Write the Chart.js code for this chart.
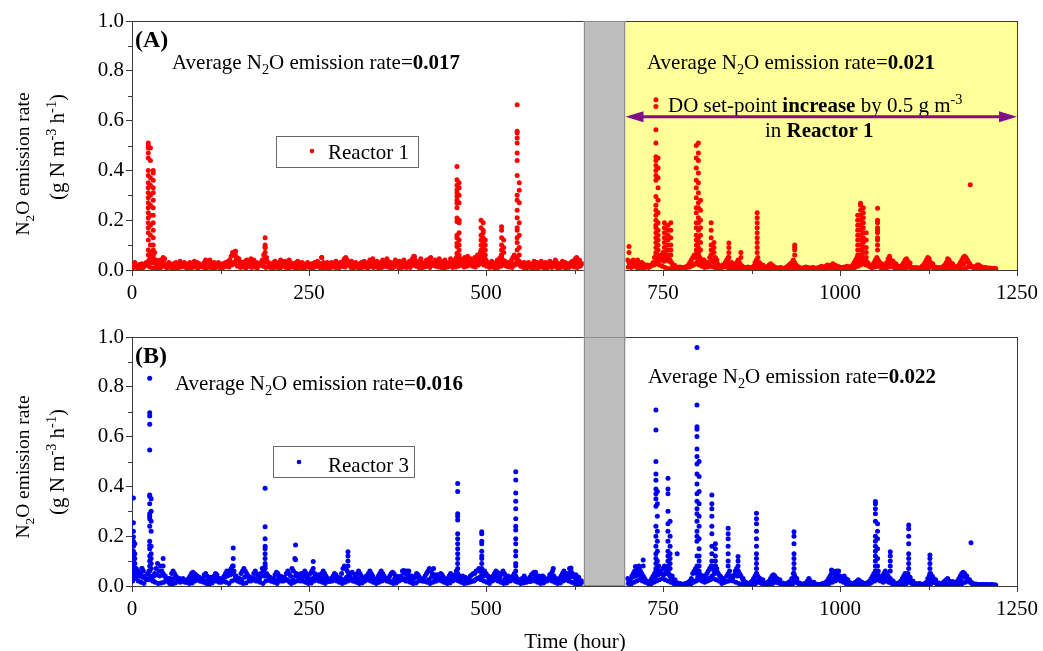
<!DOCTYPE html>
<html>
<head>
<meta charset="utf-8">
<script src="https://cdn.jsdelivr.net/npm/chart.js@4.4.1/dist/chart.umd.min.js"></script>
<style>
  html, body { margin: 0; padding: 0; background: #fff; }
  #wrap { position: relative; width: 1043px; height: 651px; overflow: hidden; }
  #cA { position: absolute; left: 0; top: 0; }
  #cB { position: absolute; left: 0; top: 310px; }
</style>
</head>
<body>
<div id="wrap">
  <canvas id="cA" width="1043" height="340"></canvas>
  <canvas id="cB" width="1043" height="341"></canvas>
</div>
<script>
// ---------------- axis ticks ----------------
const xTicks = [0, 250, 500, 750, 1000, 1250];
const xMinorTicks = [125, 375, 625, 875, 1125];
const yTicks = [0, 0.2, 0.4, 0.6, 0.8, 1.0];
const yMinorTicks = [0.1, 0.3, 0.5, 0.7, 0.9];

// shut-down period between the two runs (hours) and the DO set-point change
const shutdownHours = [638, 697];
const setPointChangeFrom = 697;

// average emission rates (g N m-3 h-1): before / after the shut-down
const avgRatesR1 = ['0.017', '0.021'];
const avgRatesR3 = ['0.016', '0.022'];

// ---------------- Reactor 1 ----------------
// cycle maxima, every 2 h: run 1 starts at 0 h, run 2 at 700 h
const r1Run1 = [
  .02,.01,.03,.015,.008,.02,.012,.025,.01,.02,
  .03,.02,.04,.06,.03,.05,.07,.04,.02,.03,
  .04,.03,.05,.045,.02,.01,.03,.02,.015,.025,
  .02,.03,.01,.025,.035,.015,.02,.03,.01,.02,
  .025,.03,.012,.02,.035,.02,.03,.01,.02,.015,
  .02,.03,.04,.035,.02,.04,.01,.025,.03,.02,
  .015,.03,.02,.01,.025,.02,.03,.015,.035,.04,
  .055,.07,.06,.075,.05,.04,.03,.02,.03,.025,
  .035,.04,.03,.02,.045,.03,.04,.02,.03,.025,
  .02,.03,.04,.06,.09,.05,.03,.02,.025,.015,
  .03,.035,.02,.01,.03,.04,.025,.02,.035,.03,
  .02,.04,.03,.015,.025,.02,.03,.035,.01,.02,
  .03,.025,.015,.02,.03,.02,.01,.025,.02,.03,
  .02,.035,.015,.025,.05,.03,.02,.01,.03,.02,
  .025,.03,.015,.02,.035,.02,.01,.03,.02,.035,
  .045,.05,.04,.03,.02,.035,.015,.025,.03,.02,
  .01,.025,.03,.02,.035,.015,.02,.03,.04,.025,
  .045,.03,.02,.035,.01,.025,.03,.04,.02,.03,
  .045,.035,.02,.03,.015,.025,.04,.03,.02,.035,
  .03,.02,.04,.025,.01,.03,.035,.02,.045,.055,
  .04,.03,.02,.035,.045,.03,.015,.025,.04,.03,
  .045,.05,.03,.02,.04,.035,.025,.045,.03,.02,
  .035,.04,.025,.015,.03,.045,.02,.03,.04,.05,
  .04,.03,.045,.02,.035,.05,.04,.055,.03,.045,
  .03,.02,.05,.04,.06,.05,.07,.04,.03,.05,
  .04,.03,.02,.025,.035,.015,.02,.03,.04,.035,
  .05,.06,.04,.03,.02,.015,.025,.03,.04,.05,
  .06,.05,.04,.03,.02,.025,.015,.03,.02,.025,
  .03,.02,.01,.025,.035,.02,.03,.015,.02,.035,
  .025,.02,.03,.01,.02,.035,.025,.015,.03,.04,
  .03,.02,.025,.015,.035,.02,.03,.01,.025,.02,
  .03,.035,.02,.045,.05,.03,.04,.02,.025
];
const r1Run2 = [
  .04,.03,.02,.035,.04,.03,.035,.04,.03,.02,
  .03,.025,.02,.015,.02,.01,.015,.02,.03,.05,
  .06,.05,.04,.05,.06,.07,.05,.04,.06,.05,
  .04,.03,.02,.015,.01,.008,.01,.012,.01,.008,
  .01,.012,.015,.02,.03,.04,.05,.06,.05,.07,
  .06,.05,.04,.03,.04,.03,.02,.03,.05,.06,
  .04,.03,.05,.04,.02,.015,.01,.02,.015,.03,
  .04,.05,.03,.02,.015,.01,.02,.03,.04,.03,
  .02,.015,.01,.008,.01,.012,.01,.008,.01,.015,
  .03,.04,.05,.03,.02,.01,.008,.01,.012,.015,
  .02,.025,.02,.015,.01,.008,.006,.008,.01,.008,
  .006,.008,.01,.015,.02,.025,.03,.04,.03,.02,
  .015,.01,.008,.006,.008,.01,.012,.01,.008,.006,
  .008,.01,.008,.006,.008,.01,.012,.015,.012,.01,
  .015,.02,.018,.015,.02,.025,.02,.018,.015,.012,
  .01,.008,.01,.012,.01,.015,.012,.01,.015,.02,
  .03,.04,.05,.06,.05,.04,.05,.03,.04,.03,
  .02,.015,.01,.02,.03,.04,.05,.04,.03,.02,
  .015,.01,.02,.03,.045,.055,.04,.03,.02,.01,
  .008,.01,.012,.015,.02,.03,.04,.045,.035,.02,
  .01,.008,.006,.008,.01,.008,.006,.01,.015,.02,
  .03,.04,.05,.045,.03,.02,.01,.008,.006,.008,
  .01,.008,.01,.015,.02,.03,.045,.04,.03,.02,
  .01,.008,.01,.015,.02,.03,.04,.05,.055,.05,
  .04,.03,.02,.015,.01,.012,.015,.02,.02,.015,
  .012,.01,.008,.01,.008,.006,.008,.006,.005,.006,
  .005
];
// cycle minima, every 4 h: run 1 from 1 h, run 2 from 701 h
const r1LowRun1 = [
  .008,.012,.006,.01,.015,.02,.012,.008,.01,.006,
  .01,.015,.008,.012,.006,.01,.008,.012,.015,.01,
  .006,.01,.012,.008,.015,.01,.006,.012,.01,.008,
  .012,.008,.01,.015,.012,.02,.025,.015,.01,.012,
  .008,.015,.01,.012,.008,.02,.015,.01,.012,.008,
  .01,.012,.006,.015,.01,.008,.012,.01,.006,.012,
  .008,.01,.012,.006,.01,.015,.01,.008,.012,.006,
  .01,.012,.008,.01,.015,.012,.02,.01,.008,.012,
  .006,.01,.012,.008,.015,.01,.012,.006,.01,.015,
  .012,.008,.01,.015,.006,.01,.012,.015,.01,.02,
  .015,.01,.008,.012,.015,.01,.02,.015,.012,.01,
  .008,.012,.015,.01,.012,.015,.02,.012,.015,.02,
  .015,.012,.02,.025,.02,.015,.01,.012,.008,.01,
  .015,.02,.015,.012,.01,.02,.025,.015,.01,.008,
  .012,.006,.01,.008,.012,.01,.006,.012,.01,.015,
  .008,.01,.012,.006,.01,.015,.012,.01,.015
];
const r1LowRun2 = [
  .012,.01,.015,.01,.008,.006,.01,.015,.02,.02,
  .025,.02,.015,.01,.006,.005,.004,.005,.006,.01,
  .008,.012,.015,.02,.025,.02,.015,.01,.012,.015,
  .012,.008,.006,.01,.015,.01,.006,.005,.004,.005,
  .006,.005,.004,.006,.008,.01,.006,.005,.004,.005,
  .006,.005,.004,.005,.004,.005,.006,.008,.01,.006,
  .005,.004,.003,.004,.005,.004,.003,.004,.005,.006,
  .008,.01,.008,.006,.005,.004,.005,.006,.005,.004,
  .01,.015,.02,.025,.02,.015,.01,.012,.015,.01,
  .006,.008,.012,.015,.008,.005,.004,.005,.008,.012,
  .008,.005,.004,.003,.004,.005,.008,.012,.01,.006,
  .004,.003,.004,.006,.01,.012,.008,.005,.004,.006,
  .012,.015,.01,.006,.004,.003,.004,.003,.002,.003
];
// mid-cycle readings, every 4 h: run 1 from 3 h, run 2 from 703 h
const r1MidRun1 = [
  .02,.018,.022,.02,.025,.03,.035,.03,.02,.025,
  .03,.025,.02,.018,.022,.02,.018,.022,.02,.018,
  .02,.022,.018,.025,.02,.02,.025,.028,.02,.022,
  .018,.02,.022,.02,.025,.03,.04,.045,.03,.022,
  .025,.022,.028,.025,.022,.02,.03,.035,.025,.018,
  .022,.02,.025,.028,.022,.02,.025,.02,.022,.018,
  .02,.018,.02,.022,.02,.022,.025,.028,.02,.018,
  .02,.018,.022,.02,.02,.025,.03,.028,.022,.02,
  .018,.022,.02,.025,.022,.02,.025,.028,.022,.02,
  .025,.022,.02,.025,.02,.022,.025,.02,.028,.03,
  .028,.025,.022,.028,.025,.02,.03,.028,.032,.025,
  .022,.025,.02,.028,.03,.025,.028,.03,.032,.035,
  .03,.035,.04,.035,.03,.025,.022,.02,.025,.022,
  .03,.035,.03,.025,.022,.03,.035,.028,.022,.02,
  .02,.018,.022,.02,.02,.022,.018,.02,.022,.025,
  .022,.02,.018,.02,.022,.025,.03,.028,.025
];
const r1MidRun2 = [
  .025,.025,.022,.025,.02,.018,.015,.015,.02,.03,
  .035,.04,.035,.04,.035,.025,.018,.01,.008,.008,
  .01,.012,.018,.025,.035,.04,.04,.03,.025,.035,
  .03,.025,.012,.012,.02,.025,.03,.02,.015,.02,
  .012,.008,.008,.008,.008,.018,.025,.02,.008,.01,
  .015,.012,.008,.006,.006,.008,.012,.018,.02,.015,
  .01,.006,.006,.008,.008,.006,.006,.008,.01,.01,
  .012,.015,.015,.015,.012,.01,.008,.01,.01,.012,
  .025,.035,.04,.035,.03,.02,.012,.02,.03,.025,
  .012,.018,.03,.035,.025,.015,.008,.01,.018,.028,
  .01,.006,.006,.006,.01,.02,.03,.025,.012,.006,
  .008,.01,.018,.028,.025,.012,.008,.012,.025,.035,
  .025,.012,.01,.012,.012,.008,.006,.005,.005,.004
];
// emission peaks: [hour, readings...]
const r1Peaks = [
  [23, .51,.50,.49,.47,.45,.40,.38,.35,.33,.31,.29,.27,.25,.23,.21,.19,.17,.15,.12,.08,.06],
  [26, .49,.44,.37,.34,.30,.26,.22,.18,.14,.10,.07,.05],
  [30, .40,.39,.36,.33,.31,.28,.25,.22,.19,.16,.13,.10,.08,.06,.04],
  [143, .07,.06], [146, .075,.06],
  [188, .13,.10,.09,.07,.05],
  [268, .05], [399, .054],
  [459, .416,.362,.34,.322,.31,.295,.28,.268,.25,.209,.195,.14,.13,.107,.094,.067,.05],
  [462, .35,.33,.30,.27,.20,.19,.15,.12,.10,.08,.06],
  [493, .20,.17,.14,.12,.10,.08,.06,.04],
  [496, .19,.16,.15,.13,.11,.09,.07,.05],
  [499, .12,.10,.08,.06],
  [522, .174,.16,.13,.10,.08,.06,.05], [525, .12,.09,.07],
  [544, .664,.557,.55,.53,.51,.47,.44,.38,.30,.28,.24,.21,.17,.16,.13,.11,.08,.05],
  [547, .35,.32,.27,.19,.14,.09,.06],
  [702, .094,.07],
  [740, .684,.657,.563,.51,.455,.44,.42,.40,.38,.36,.295,.26,.24,.22,.20,.18,.17,.15,.13,.11,.09,.07,.05],
  [743, .45,.41,.37,.33,.28,.23,.19,.16,.14,.12,.10,.08,.06],
  [752, .19,.17,.15,.13,.11,.09,.07,.05],
  [757, .18,.16,.14,.12,.10,.08,.06],
  [761, .19,.16,.13,.10,.08,.06],
  [797, .50,.45,.41,.36,.33,.29,.25,.23,.19,.17,.14,.12,.10,.08,.06],
  [800, .51,.47,.44,.39,.35,.31,.27,.25,.21,.19,.16,.13,.11,.09,.07,.05],
  [803, .28,.24,.20,.17,.14,.11,.08],
  [818, .19,.16,.13,.10,.08,.06], [822, .11,.09,.07],
  [843, .108,.09,.07,.05], [860, .07,.05],
  [883, .23,.21,.19,.17,.15,.13,.11,.09,.07],
  [936, .10,.09,.08,.06],
  [1025, .22,.20,.18,.16,.14,.12,.10,.08,.06],
  [1029, .268,.26,.24,.22,.20,.18,.16,.14,.12,.10,.08,.06],
  [1033, .25,.23,.21,.19,.17,.15,.13,.11,.09,.07,.05],
  [1037, .15,.12,.09,.07,.05],
  [1053, .248,.20,.19,.17,.16,.15,.13,.12,.10,.08],
  [1184, .342]
];

// ---------------- Reactor 3 ----------------
const r3Run1 = [
  .06,.08,.05,.07,.06,.04,.05,.07,.06,.04,
  .03,.05,.06,.04,.03,.02,.05,.07,.09,.06,
  .08,.06,.05,.04,.03,.02,.025,.03,.05,.06,
  .05,.04,.03,.02,.015,.02,.03,.02,.02,.025,
  .03,.04,.05,.055,.05,.045,.04,.03,.02,.02,
  .03,.045,.05,.04,.03,.02,.02,.025,.04,.05,
  .045,.03,.02,.015,.02,.04,.05,.06,.05,.06,
  .07,.08,.06,.04,.03,.02,.03,.05,.06,.07,
  .06,.05,.04,.03,.02,.03,.05,.06,.05,.04,
  .03,.05,.07,.06,.08,.05,.04,.03,.02,.02,
  .03,.045,.055,.05,.04,.03,.02,.02,.03,.05,
  .06,.05,.04,.07,.06,.11,.05,.04,.03,.02,
  .03,.05,.06,.05,.04,.03,.05,.06,.07,.05,
  .04,.03,.02,.03,.05,.06,.05,.04,.03,.02,
  .02,.03,.04,.05,.045,.035,.025,.03,.05,.07,
  .08,.07,.06,.05,.04,.03,.02,.025,.035,.05,
  .06,.05,.04,.03,.02,.03,.04,.05,.06,.05,
  .04,.03,.02,.025,.04,.05,.06,.05,.04,.03,
  .02,.03,.04,.05,.055,.05,.04,.03,.02,.03,
  .04,.06,.055,.05,.06,.045,.04,.03,.02,.03,
  .04,.05,.045,.035,.025,.02,.03,.04,.05,.06,
  .07,.06,.05,.04,.03,.02,.03,.04,.05,.045,
  .035,.025,.02,.03,.04,.05,.04,.03,.045,.06,
  .05,.04,.03,.02,.025,.03,.02,.025,.03,.04,
  .045,.05,.05,.06,.06,.07,.06,.05,.04,.06,
  .05,.04,.03,.02,.03,.04,.05,.06,.055,.05,
  .04,.05,.06,.05,.04,.03,.025,.02,.03,.04,
  .05,.04,.03,.02,.025,.02,.03,.04,.03,.02,
  .025,.035,.045,.05,.055,.04,.03,.02,.025,.03,
  .04,.035,.025,.02,.03,.045,.05,.06,.04,.03,
  .02,.025,.03,.04,.05,.06,.05,.04,.05,.07,
  .06,.05,.04,.03,.02,.015,.01,.02,.015
];
const r3Run2 = [
  .03,.02,.015,.04,.05,.06,.04,.05,.07,.06,
  .05,.04,.03,.02,.015,.01,.02,.03,.04,.05,
  .06,.07,.08,.06,.05,.07,.08,.06,.07,.05,
  .04,.03,.02,.01,.008,.006,.008,.01,.008,.006,
  .008,.01,.012,.015,.02,.03,.05,.06,.07,.05,
  .06,.04,.03,.02,.03,.04,.05,.06,.07,.08,
  .07,.06,.08,.07,.05,.04,.03,.02,.015,.02,
  .04,.05,.06,.04,.03,.04,.06,.07,.06,.05,
  .04,.03,.02,.015,.01,.008,.01,.015,.02,.03,
  .04,.05,.04,.03,.02,.015,.01,.008,.01,.015,
  .02,.03,.04,.045,.04,.03,.02,.015,.01,.008,
  .006,.008,.01,.012,.015,.02,.03,.05,.04,.03,
  .015,.01,.008,.006,.008,.01,.012,.02,.03,.02,
  .01,.008,.006,.008,.006,.005,.006,.008,.01,.012,
  .015,.02,.03,.04,.05,.06,.05,.04,.05,.06,
  .04,.03,.035,.04,.03,.02,.015,.01,.008,.01,
  .012,.015,.02,.025,.02,.015,.01,.008,.01,.012,
  .015,.02,.03,.04,.05,.06,.05,.06,.04,.03,
  .04,.05,.06,.05,.04,.03,.02,.015,.01,.008,
  .008,.01,.015,.02,.03,.04,.05,.04,.05,.03,
  .02,.015,.01,.008,.006,.008,.01,.008,.006,.008,
  .01,.015,.03,.04,.05,.04,.03,.02,.01,.008,
  .006,.008,.01,.015,.02,.025,.03,.02,.015,.01,
  .008,.01,.015,.02,.03,.04,.05,.055,.05,.04,
  .03,.02,.015,.01,.008,.006,.008,.006,.005,.006,
  .005,.006,.005,.006,.005,.004,.005,.006,.005,.004,
  .004
];
const r3LowRun1 = [
  .02,.03,.02,.015,.01,.025,.03,.02,.015,.01,
  .012,.015,.02,.01,.008,.012,.02,.025,.02,.015,
  .01,.012,.02,.025,.02,.015,.01,.008,.012,.02,
  .025,.03,.02,.015,.01,.02,.025,.02,.015,.01,
  .012,.02,.025,.03,.02,.015,.01,.02,.025,.02,
  .015,.01,.02,.03,.025,.02,.01,.015,.02,.025,
  .02,.015,.01,.012,.02,.025,.02,.015,.01,.02,
  .03,.025,.02,.015,.01,.015,.02,.025,.02,.015,
  .01,.012,.02,.025,.02,.015,.01,.015,.02,.025,
  .02,.015,.01,.012,.02,.025,.03,.02,.015,.01,
  .012,.02,.025,.02,.015,.01,.015,.02,.025,.02,
  .015,.01,.012,.02,.025,.02,.015,.01,.012,.015,
  .02,.025,.03,.025,.02,.015,.01,.02,.025,.02,
  .015,.01,.012,.02,.025,.02,.015,.01,.012,.015,
  .02,.025,.02,.015,.01,.012,.02,.025,.02,.015,
  .01,.012,.02,.025,.02,.015,.01,.008,.006
];
const r3LowRun2 = [
  .01,.008,.015,.02,.025,.02,.015,.01,.008,.015,
  .02,.025,.03,.025,.02,.015,.01,.005,.004,.003,
  .004,.005,.008,.015,.02,.025,.02,.015,.02,.025,
  .03,.025,.02,.01,.015,.02,.025,.02,.015,.01,
  .008,.005,.004,.005,.006,.01,.015,.01,.006,.004,
  .005,.01,.015,.012,.008,.005,.004,.005,.008,.015,
  .01,.005,.004,.003,.004,.006,.005,.004,.003,.004,
  .005,.01,.015,.02,.025,.02,.015,.008,.005,.004,
  .005,.006,.008,.006,.005,.008,.015,.02,.025,.02,
  .015,.02,.015,.01,.006,.004,.003,.004,.008,.015,
  .01,.005,.004,.003,.004,.003,.005,.01,.015,.01,
  .006,.004,.003,.005,.008,.006,.004,.005,.01,.015,
  .02,.015,.008,.004,.003,.002,.003,.002,.003,.002
];
const r3MidRun1 = [
  .04,.045,.04,.035,.03,.025,.035,.04,.045,.04,
  .045,.04,.03,.02,.03,.035,.03,.02,.015,.018,
  .025,.035,.04,.035,.025,.018,.025,.035,.03,.02,
  .015,.025,.035,.04,.045,.05,.04,.025,.02,.035,
  .04,.035,.025,.02,.035,.04,.04,.045,.035,.025,
  .018,.03,.038,.035,.025,.015,.025,.04,.045,.05,
  .04,.03,.025,.03,.04,.045,.04,.03,.02,.018,
  .02,.03,.035,.03,.025,.035,.05,.055,.045,.03,
  .02,.03,.04,.04,.03,.02,.018,.03,.04,.03,
  .025,.018,.03,.038,.035,.025,.02,.035,.04,.035,
  .035,.03,.02,.018,.025,.035,.045,.045,.035,.025,
  .018,.025,.03,.035,.03,.03,.04,.035,.025,.018,
  .02,.03,.035,.04,.045,.04,.035,.04,.035,.025,
  .02,.03,.04,.035,.025,.018,.02,.03,.025,.018,
  .018,.025,.035,.04,.03,.02,.025,.03,.04,.03,
  .02,.025,.035,.04,.035,.04,.045,.035,.02
];
const r3MidRun2 = [
  .025,.035,.04,.045,.04,.03,.02,.015,.025,.035,
  .045,.05,.045,.05,.045,.04,.025,.012,.006,.006,
  .008,.01,.015,.02,.035,.045,.04,.025,.03,.04,
  .05,.055,.04,.03,.018,.02,.035,.045,.04,.045,
  .03,.015,.008,.008,.012,.02,.03,.025,.012,.008,
  .012,.025,.03,.025,.012,.006,.008,.012,.02,.03,
  .012,.006,.006,.008,.012,.015,.006,.004,.005,.006,
  .01,.02,.03,.04,.035,.03,.025,.025,.012,.006,
  .01,.015,.015,.01,.006,.012,.025,.035,.04,.03,
  .035,.04,.03,.02,.01,.006,.01,.02,.03,.035,
  .02,.01,.006,.006,.006,.01,.025,.035,.025,.012,
  .006,.008,.012,.018,.018,.01,.01,.02,.035,.04,
  .025,.012,.006,.005,.005,.004,.004,.004,.004,.003
];
const r3Peaks = [
  [2, .353,.254,.22,.198,.18,.16,.14,.12,.10,.08],
  [4, .17,.13,.11,.09,.07],
  [14, .07],
  [25, .834,.696,.683,.65,.546,.365,.36,.33,.29,.28,.27,.24,.18,.163,.15,.12,.10,.08,.06],
  [27, .35,.30,.26,.22,.16,.13,.11,.09,.07],
  [44, .11,.08],
  [143, .153,.11,.08],
  [188, .393,.238,.19,.16,.15,.13,.11,.09,.07],
  [231, .165,.105], [256, .098],
  [305, .138,.12,.10,.08],
  [384, .062], [391, .06], [426, .07],
  [460, .412,.38,.29,.28,.265,.21,.19,.17,.15,.13,.11,.09,.07,.05],
  [494, .218,.21,.18,.17,.14,.12,.11,.09,.07],
  [542, .459,.426,.373,.34,.31,.27,.24,.225,.19,.17,.14,.12,.09,.08,.06],
  [570, .055], [595, .07], [620, .072],
  [711, .078,.06], [716, .08,.07], [722, .104,.08],
  [740, .707,.627,.50,.45,.425,.39,.37,.35,.32,.24,.20,.16,.13,.11,.09,.07,.05],
  [742, .38,.33,.28,.22,.18,.14,.10,.06],
  [757, .433,.39,.37,.30,.25,.22,.18,.14,.12,.10,.08,.06],
  [760, .26,.20,.16,.13,.11,.09,.07],
  [770, .13],
  [798, .958,.727,.64,.63,.60,.55,.52,.49,.45,.41,.37,.34,.31,.29,.26,.22,.20,.18,.12,.08],
  [801, .50,.44,.38,.33,.28,.24,.19,.15,.12,.10,.08,.06],
  [819, .365,.33,.31,.28,.24,.21,.16,.13,.10,.08],
  [824, .17,.15,.12,.10,.08,.06],
  [842, .232,.21,.19,.16,.13,.10,.08],
  [856, .118,.10,.08,.06],
  [882, .292,.27,.25,.22,.19,.16,.13,.11,.09,.07,.05],
  [935, .218,.20,.17,.13,.11,.09,.07,.05],
  [988, .064], [995, .06],
  [1050, .339,.33,.31,.29,.26,.20,.18,.16,.14,.12,.10,.08,.06],
  [1053, .25,.22,.19,.15,.11,.08],
  [1071, .138,.12,.10,.08,.06],
  [1097, .245,.23,.20,.17,.13,.11,.09,.07],
  [1127, .125,.11,.09,.07,.05],
  [1185, .174]
];

// ---------------- helpers ----------------
function run(startHour, stepHours, values) {
  return values.map((v, i) => ({ x: startHour + i * stepHours, y: v }));
}
function peaks(cols) {
  const pts = [];
  cols.forEach(c => { for (let k = 1; k < c.length; k++) pts.push({ x: c[0], y: c[k] }); });
  return pts;
}

const SERIF = '"Liberation Serif", "Times New Roman", serif';
Chart.defaults.font.family = SERIF;
Chart.defaults.font.size = 21;
Chart.defaults.color = '#000';

// text made of pieces (plain, bold, sub- and superscript)
function richWidth(ctx, parts, size) {
  let w = 0;
  parts.forEach(p => {
    const fs = (p.sub || p.sup) ? size * 0.68 : size;
    ctx.font = (p.b ? 'bold ' : '') + fs + 'px ' + SERIF;
    w += ctx.measureText(p.t).width;
  });
  return w;
}
function richText(ctx, parts, x, y, size) {
  let cx = x;
  parts.forEach(p => {
    const fs = (p.sub || p.sup) ? size * 0.68 : size;
    ctx.font = (p.b ? 'bold ' : '') + fs + 'px ' + SERIF;
    const dy = p.sub ? size * 0.24 : (p.sup ? -size * 0.36 : 0);
    ctx.fillText(p.t, cx, y + dy);
    cx += ctx.measureText(p.t).width;
  });
}
function avgParts(v) {
  return [{ t: 'Average N' }, { t: '2', sub: true }, { t: 'O emission rate=' }, { t: v, b: true }];
}
const yTitle1 = [{ t: 'N' }, { t: '2', sub: true }, { t: 'O emission rate' }];
const yTitle2 = [{ t: '(g N m' }, { t: '-3', sup: true }, { t: ' h' }, { t: '-1', sup: true }, { t: ')' }];

const panelDecor = {
  id: 'panelDecor',
  beforeDatasetsDraw(chart, args, o) {
    const { ctx, chartArea: a, scales: { x } } = chart;
    if (o.yellowFrom != null) {
      const x0 = x.getPixelForValue(o.yellowFrom);
      ctx.save();
      ctx.fillStyle = '#FFFF99';
      ctx.fillRect(x0, a.top, a.right - x0, a.bottom - a.top);
      ctx.restore();
    }
  },
  afterDraw(chart, args, o) {
    const { ctx, chartArea: a, scales: { x, y } } = chart;
    ctx.save();
    // frame top / right
    ctx.strokeStyle = '#3c3c3c';
    ctx.lineWidth = 1;
    ctx.beginPath();
    ctx.moveTo(a.left, a.top + 0.5); ctx.lineTo(a.right + 0.5, a.top + 0.5);
    ctx.moveTo(a.right + 0.5, a.top); ctx.lineTo(a.right + 0.5, a.bottom);
    ctx.stroke();
    // minor ticks
    ctx.beginPath();
    xMinorTicks.forEach(v => {
      const px = Math.round(x.getPixelForValue(v)) + 0.5;
      ctx.moveTo(px, a.bottom); ctx.lineTo(px, a.bottom + 4);
    });
    yMinorTicks.forEach(v => {
      const py = Math.round(y.getPixelForValue(v)) + 0.5;
      ctx.moveTo(a.left - 4, py); ctx.lineTo(a.left, py);
    });
    ctx.stroke();

    // shut-down band
    const b0 = x.getPixelForValue(shutdownHours[0]);
    const b1 = x.getPixelForValue(shutdownHours[1]);
    const bTop = a.top;
    const bBot = o.bandToBottom ? chart.height : a.bottom;
    ctx.fillStyle = '#BEBEBE';
    ctx.fillRect(b0, bTop, b1 - b0, bBot - bTop);
    ctx.strokeStyle = '#8E8E8E';
    ctx.beginPath();
    ctx.moveTo(Math.round(b0) + 0.5, bTop); ctx.lineTo(Math.round(b0) + 0.5, bBot);
    ctx.moveTo(Math.round(b1) - 0.5, bTop); ctx.lineTo(Math.round(b1) - 0.5, bBot);
    if (!o.bandToBottom) { ctx.moveTo(b0, a.bottom - 0.5); ctx.lineTo(b1, a.bottom - 0.5); }
    ctx.moveTo(b0, bTop + 0.5); ctx.lineTo(b1, bTop + 0.5);
    ctx.stroke();

    // texts
    ctx.fillStyle = '#000';
    ctx.textBaseline = 'alphabetic';
    ctx.textAlign = 'left';
    ctx.font = 'bold 24px ' + SERIF;
    ctx.fillText(o.tag, a.left + 3, a.top + o.tagDy);
    richText(ctx, avgParts(o.avg[0]), a.left + o.avgPos[0][0], a.top + o.avgPos[0][1], 21);
    richText(ctx, avgParts(o.avg[1]), a.left + o.avgPos[1][0], a.top + o.avgPos[1][1], 21);

    if (o.setPoint) {
      const sp = o.setPoint;
      richText(ctx, [{ t: 'DO set-point ' }, { t: 'increase', b: true }, { t: ' by 0.5 g m' }, { t: '-3', sup: true }],
        a.left + sp.line1[0], a.top + sp.line1[1], 21);
      richText(ctx, [{ t: 'in ' }, { t: 'Reactor 1', b: true }], a.left + sp.line2[0], a.top + sp.line2[1], 21);
      // double-headed arrow over the changed period
      const ax0 = x.getPixelForValue(setPointChangeFrom), ax1 = a.right;
      const ay = a.top + sp.arrowDy;
      const head = 18, hh = 5.5;
      ctx.strokeStyle = '#7E0E8A';
      ctx.fillStyle = '#7E0E8A';
      ctx.lineWidth = 3;
      ctx.beginPath(); ctx.moveTo(ax0 + head - 2, ay); ctx.lineTo(ax1 - head + 2, ay); ctx.stroke();
      ctx.beginPath(); ctx.moveTo(ax0, ay); ctx.lineTo(ax0 + head, ay - hh); ctx.lineTo(ax0 + head, ay + hh); ctx.closePath(); ctx.fill();
      ctx.beginPath(); ctx.moveTo(ax1, ay); ctx.lineTo(ax1 - head, ay - hh); ctx.lineTo(ax1 - head, ay + hh); ctx.closePath(); ctx.fill();
      ctx.fillStyle = '#000';
      ctx.lineWidth = 1;
    }

    // legend box
    const lg = o.legend;
    const ds = chart.data.datasets[0];
    ctx.fillStyle = '#fff';
    ctx.fillRect(a.left + lg.x0, a.top + lg.y0, lg.x1 - lg.x0, lg.y1 - lg.y0);
    ctx.strokeStyle = '#6a6a6a';
    ctx.lineWidth = 1;
    ctx.strokeRect(a.left + lg.x0 + 0.5, a.top + lg.y0 + 0.5, lg.x1 - lg.x0, lg.y1 - lg.y0);
    ctx.fillStyle = ds.backgroundColor;
    ctx.beginPath(); ctx.arc(a.left + lg.dotX, a.top + lg.dotY, 2.3, 0, Math.PI * 2); ctx.fill();
    ctx.fillStyle = '#000';
    ctx.font = '21px ' + SERIF;
    ctx.fillText(ds.label, a.left + lg.textX, a.top + lg.textY);

    // y title (two rotated lines)
    o.yTitle.forEach((ln, i) => {
      const parts = i === 0 ? yTitle1 : yTitle2;
      const size = ln[2];
      const w = richWidth(ctx, parts, size);
      ctx.save();
      ctx.translate(ln[0], ln[1]);
      ctx.rotate(-Math.PI / 2);
      ctx.textBaseline = 'alphabetic';
      richText(ctx, parts, -w / 2, 7, size);
      ctx.restore();
    });

    // x title
    if (o.xTitle) {
      ctx.font = '21px ' + SERIF;
      ctx.textAlign = 'center';
      ctx.fillText('Time (hour)', o.xTitle[0], o.xTitle[1]);
    }
    ctx.restore();
  }
};

function makeChart(canvasId, label, color, data, padTop, xAxisHeight, decor) {
  return new Chart(document.getElementById(canvasId), {
    type: 'scatter',
    data: {
      datasets: [{
        label: label,
        data: data,
        backgroundColor: color,
        borderWidth: 0,
        pointRadius: 2.5,
        pointHoverRadius: 2.5
      }]
    },
    options: {
      responsive: false,
      animation: false,
      events: [],
      layout: { padding: { top: padTop, left: 0, right: 26, bottom: 0 } },
      plugins: { legend: { display: false }, tooltip: { enabled: false }, panelDecor: decor },
      scales: {
        x: {
          type: 'linear', min: 0, max: 1250,
          afterBuildTicks: s => { s.ticks = xTicks.map(v => ({ value: v })); },
          afterFit: s => { s.height = xAxisHeight; },
          grid: { display: true, drawOnChartArea: false, drawTicks: true, tickLength: 6, color: '#3c3c3c' },
          border: { display: true, color: '#3c3c3c', width: 1 },
          ticks: { autoSkip: false, maxRotation: 0, padding: 5, font: { size: 21 }, color: '#000',
                   callback: v => String(v) }
        },
        y: {
          type: 'linear', min: 0, max: 1.0,
          afterBuildTicks: s => { s.ticks = yTicks.map(v => ({ value: v })); },
          afterFit: s => { s.width = 132; },
          grid: { display: true, drawOnChartArea: false, drawTicks: true, tickLength: 6, color: '#3c3c3c' },
          border: { display: true, color: '#3c3c3c', width: 1 },
          ticks: { padding: 2, font: { size: 21 }, color: '#000', callback: v => Number(v).toFixed(1) }
        }
      }
    },
    plugins: [panelDecor]
  });
}

const r1Data = [].concat(run(0, 2, r1Run1), run(700, 2, r1Run2),
  run(1, 4, r1LowRun1), run(701, 4, r1LowRun2),
  run(3, 4, r1MidRun1), run(703, 4, r1MidRun2), peaks(r1Peaks));
const r3Data = [].concat(run(0, 2, r3Run1), run(700, 2, r3Run2),
  run(1, 4, r3LowRun1), run(701, 4, r3LowRun2),
  run(3, 4, r3MidRun1), run(703, 4, r3MidRun2), peaks(r3Peaks));

makeChart('cA', 'Reactor 1', '#FF0000', r1Data, 21, 70, {
  tag: '(A)', tagDy: 25.5,
  avg: avgRatesR1, avgPos: [[40, 48], [515, 47.5]],
  yellowFrom: setPointChangeFrom,
  bandToBottom: true,
  setPoint: { line1: [536, 90.5], line2: [633, 116], arrowDy: 95.7 },
  legend: { x0: 144, y0: 115, x1: 286, y1: 146, dotX: 180, dotY: 130, textX: 196, textY: 137.5 },
  yTitle: [[22, 164, 19.5], [57, 147, 21]]
});

makeChart('cB', 'Reactor 3', '#0000F0', r3Data, 27, 65, {
  tag: '(B)', tagDy: 26,
  avg: avgRatesR3, avgPos: [[43, 52.5], [516, 45.5]],
  bandToBottom: false,
  legend: { x0: 141, y0: 109, x1: 282, y1: 140, dotX: 167, dotY: 125, textX: 196, textY: 134.5 },
  yTitle: [[22, 157, 19.5], [57, 152, 21]],
  xTitle: [575, 338]
});
</script>
</body>
</html>
